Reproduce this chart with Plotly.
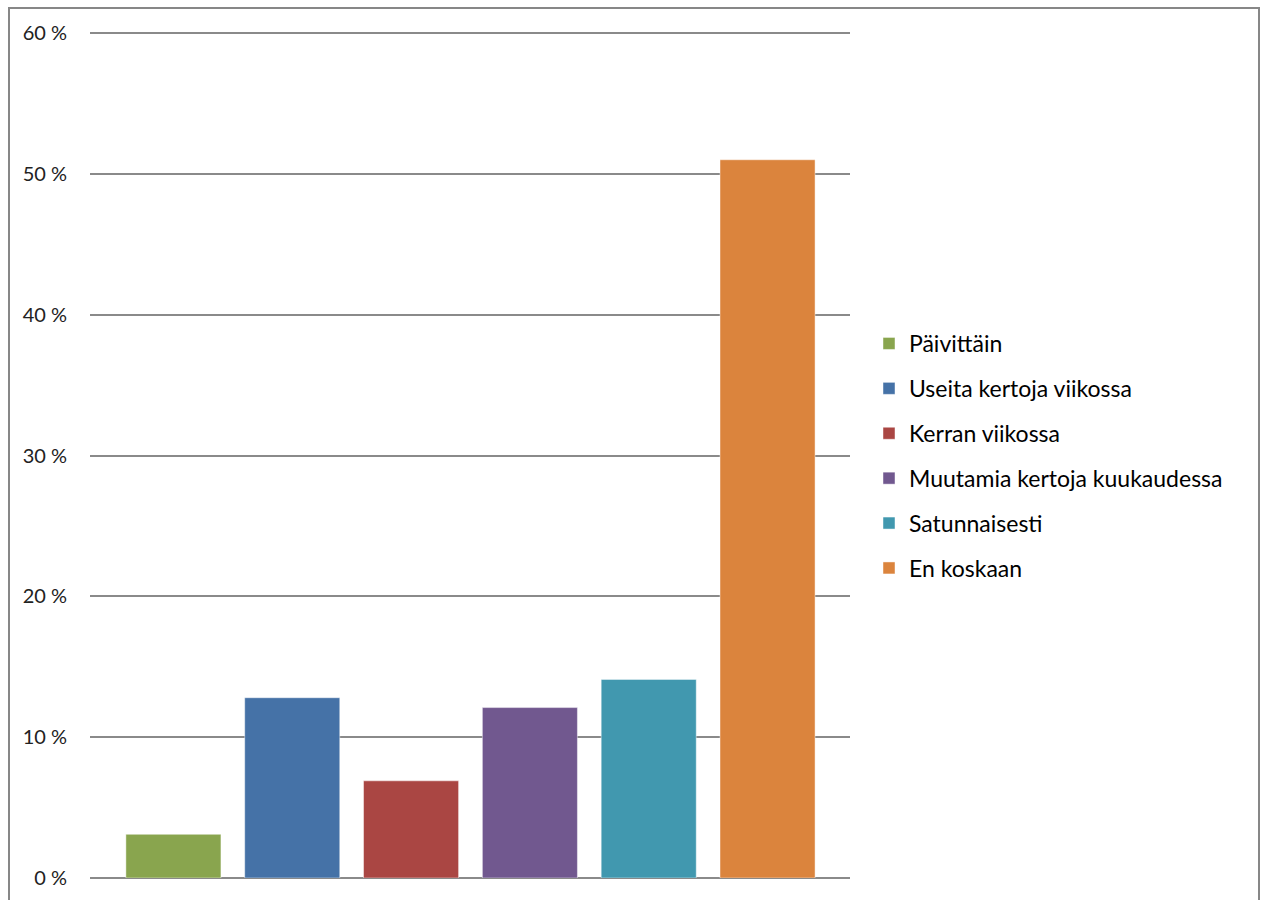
import plotly.graph_objects as go

# Survey answers: how often the respondent does it
categories = [
    "Päivittäin",
    "Useita kertoja viikossa",
    "Kerran viikossa",
    "Muutamia kertoja kuukaudessa",
    "Satunnaisesti",
    "En koskaan",
]
shares = [3.1, 12.8, 6.9, 12.1, 14.1, 51.0]
colors = ["#89A54E", "#4572A7", "#AA4643", "#71588F", "#4198AF", "#DB843D"]
y_ticks = [0, 10, 20, 30, 40, 50, 60]

W, H = 1261, 900
L, R, T, B = 90, 850, 28, 878
pw, ph = R - L, B - T
y_top = 60 + 60 / (B - 33) * (33 - T)   # a few spare pixels so the 60 % gridline shows

fig = go.Figure()
for i, (name, val, col) in enumerate(zip(categories, shares, colors)):
    fig.add_trace(go.Bar(
        x=[i], y=[val], name=name, width=0.8,
        marker=dict(color=col, line=dict(color="rgba(255,255,255,0.45)", width=1)),
        legendgroup=name, hoverinfo="skip",
    ))


def px_x(p):
    return (p - L) / pw


def px_y(p):
    return (B - p) / ph


# frame around the whole chart
fig.add_shape(type="rect", xref="paper", yref="paper",
              x0=px_x(9), x1=px_x(1259), y0=px_y(910), y1=px_y(8),
              line=dict(color="#878787", width=2), fillcolor="rgba(0,0,0,0)",
              layer="below")

fig.update_layout(
    width=W, height=H,
    margin=dict(l=L, r=W - R, t=T, b=H - B, pad=0),
    paper_bgcolor="white", plot_bgcolor="white",
    barmode="overlay",
    font=dict(family="Lato, 'Open Sans', sans-serif", color="#111111"),
    xaxis=dict(range=[-0.702, 5.694], showticklabels=False, showgrid=False,
               zeroline=False, showline=False, ticks=""),
    yaxis=dict(range=[0, y_top], tickvals=y_ticks,
               ticktext=[f"{v} %" for v in y_ticks],
               showgrid=True, gridcolor="#8A8A8A", gridwidth=2,
               zeroline=True, zerolinecolor="#8A8A8A", zerolinewidth=2,
               showline=False, ticks="", ticklabelstandoff=22,
               tickfont=dict(size=20, color="#222222")),
    legend=dict(x=px_x(869), y=px_y(322), xanchor="left", yanchor="top",
                font=dict(size=23, color="#000000"),
                tracegroupgap=12, itemwidth=30,
                bgcolor="rgba(0,0,0,0)"),
    showlegend=True,
)

fig.write_html("out.html")
